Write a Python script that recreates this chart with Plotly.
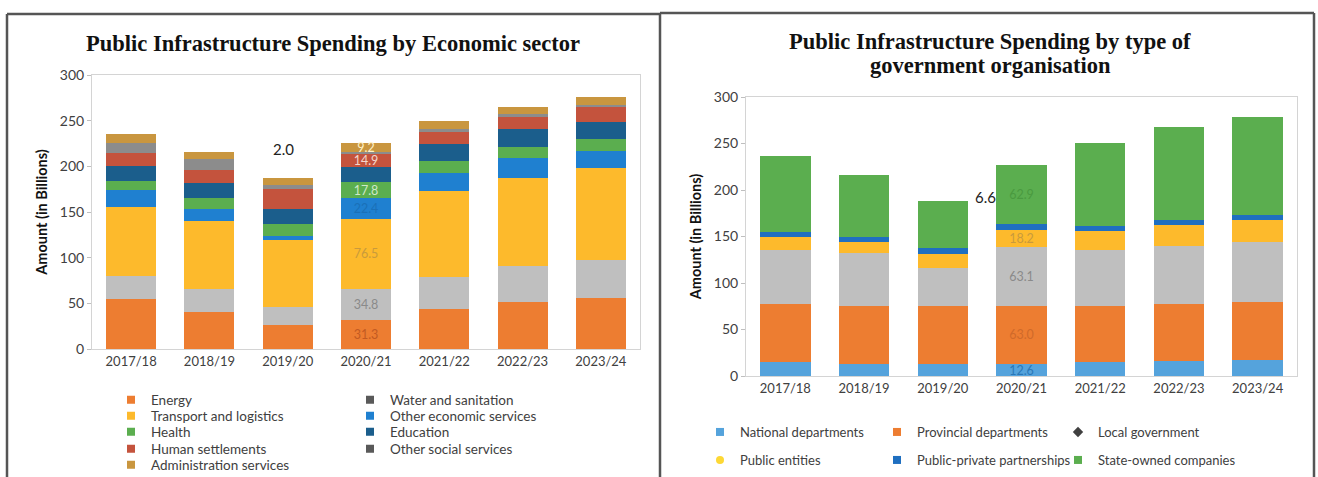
import plotly.graph_objects as go

# ---- data -------------------------------------------------------------
years = ["2017/18", "2018/19", "2019/20", "2020/21", "2021/22", "2022/23", "2023/24"]

# Spending by economic sector (R billions)
energy = [55.0, 40.0, 26.0, 31.3, 43.5, 51.5, 55.5]
water = [25.0, 26.0, 20.5, 34.8, 35.5, 39.0, 42.0]
transport = [76.0, 74.0, 72.5, 76.5, 94.0, 97.0, 100.5]
other_econ = [18.0, 13.0, 5.0, 22.4, 19.5, 22.0, 19.0]
health = [10.0, 12.5, 13.0, 17.8, 13.0, 11.5, 12.5]
education = [16.0, 16.5, 16.0, 16.5, 19.0, 19.5, 19.5]
human_settlements = [14.5, 14.5, 22.0, 14.9, 13.5, 14.0, 15.5]
other_social = [11.0, 11.0, 5.0, 2.0, 2.5, 2.5, 2.5]
admin = [10.0, 8.0, 7.5, 9.2, 9.5, 8.5, 9.0]

# Spending by type of government organisation (R billions)
national = [15.0, 13.0, 13.0, 12.6, 15.0, 16.5, 17.5]
provincial = [62.5, 62.0, 62.0, 63.0, 60.0, 61.0, 62.5]
local_gov = [57.5, 57.5, 41.0, 63.1, 60.5, 62.0, 64.5]
public_entities = [14.5, 12.0, 15.5, 18.2, 20.0, 22.5, 23.0]
ppp = [5.0, 5.0, 6.5, 6.6, 5.5, 5.5, 5.5]
soc = [82.0, 66.5, 50.0, 62.9, 90.0, 100.0, 105.0]

labelled_year = "2020/21"

# ---- styling ----------------------------------------------------------
TICK_FONT = "Lato, Open Sans, sans-serif"
TITLE_FONT = "Liberation Serif, DejaVu Serif, serif"
W, H = 1318, 477

# (name, values, bar colour, label colour, legend swatch colour, swatch symbol)
sector_series = [
    ("Energy", energy, "#ED7D31", "#c25a22", "#ED7D31", "square"),
    ("Water and sanitation", water, "#BFBFBF", "#8a8a8a", "#595959", "square"),
    ("Transport and logistics", transport, "#FDBA2C", "#c99a3c", "#FDBA2C", "square"),
    ("Other economic services", other_econ, "#1F80D0", "#1a70b8", "#1F80D0", "square"),
    ("Health", health, "#5BAE4F", "#cfe8c8", "#5BAE4F", "square"),
    ("Education", education, "#1B5E8C", "#1B5E8C", "#1B5E8C", "square"),
    ("Human settlements", human_settlements, "#C4533D", "#f3d6cc", "#C4533D", "square"),
    ("Other social services", other_social, "#8C8C8C", "#8C8C8C", "#595959", "square"),
    ("Administration services", admin, "#C9963F", "#fff2c8", "#C9963F", "square"),
]

org_series = [
    ("National departments", national, "#55A3DC", "#2a78b8", "#55A3DC", "square"),
    ("Provincial departments", provincial, "#ED7D31", "#d06a2a", "#ED7D31", "square"),
    ("Local government", local_gov, "#BFBFBF", "#8a8a8a", "#404040", "diamond"),
    ("Public entities", public_entities, "#FDBA2C", "#c99a3c", "#FDD835", "circle"),
    ("Public-private partnerships", ppp, "#1F6FC0", "#1F6FC0", "#1F6FC0", "square"),
    ("State-owned companies", soc, "#5BAE4F", "#4a9a40", "#5BAE4F", "square"),
]

# legend entry layout: text start x and row centre y (pixels), one legend box per entry
sector_legend_pos = [(151, 400), (390, 400), (151, 416), (390, 416), (151, 432),
                     (390, 432), (151, 449), (390, 449), (151, 465)]
org_legend_pos = [(740, 432), (917, 432), (1098, 432),
                  (740, 460), (917, 460), (1098, 460)]

fig = go.Figure()
legend_layouts = {}

legend_common = dict(orientation="h", bgcolor="rgba(0,0,0,0)", traceorder="normal",
                     itemwidth=30, xanchor="left", yanchor="middle",
                     itemclick=False, itemdoubleclick=False)


def seg_labels(vals):
    return [f"{v:.1f}" if yr == labelled_year else "" for yr, v in zip(years, vals)]


def add_stack(series, xa, ya, outside_idx, positions, font_size):
    for i, (name, vals, col, tcol, lcol, sym) in enumerate(series):
        text = [""] * len(vals) if i == outside_idx else seg_labels(vals)
        fig.add_trace(go.Bar(
            x=years, y=vals, name=name, marker=dict(color=col, line=dict(width=0)),
            text=text, textposition="inside", insidetextanchor="middle",
            constraintext="none", cliponaxis=False,
            textfont=dict(family=TICK_FONT, size=12.5, color=tcol),
            xaxis=xa, yaxis=ya, showlegend=False,
        ))
        # legend swatch, each in its own legend box
        leg_id = "legend" if not legend_layouts else f"legend{len(legend_layouts) + 1}"
        tx, ty = positions[i]
        legend_layouts[leg_id] = dict(
            legend_common, x=(tx - 40) / W, y=1 - ty / H,
            font=dict(family=TICK_FONT, size=font_size, color="#404040"))
        fig.add_trace(go.Scatter(
            x=[None], y=[None], mode="markers", name=name,
            marker=dict(symbol=sym, size=8, color=lcol),
            xaxis=xa, yaxis=ya, legend=leg_id, showlegend=True,
        ))


add_stack(sector_series, "x", "y", 7, sector_legend_pos, 13.5)
add_stack(org_series, "x2", "y2", 4, org_legend_pos, 13)

# values shown beside the bar rather than inside it
k = years.index(labelled_year)
fig.add_annotation(x=years[k - 1], y=219, xref="x", yref="y",
                   text=f"{other_social[k]:.1f}", showarrow=False, xshift=-4,
                   font=dict(family=TICK_FONT, size=15, color="#222"))
fig.add_annotation(x=years[k], y=192, xref="x2", yref="y2",
                   text=f"{ppp[k]:.1f}", showarrow=False, xshift=-36,
                   font=dict(family=TICK_FONT, size=15, color="#222"))

# titles
title_font = dict(family=TITLE_FONT, size=22.5, color="#111")
for txt, cx, cy in [("Public Infrastructure Spending by Economic sector", 333, 43),
                    ("Public Infrastructure Spending by type of", 990, 41),
                    ("government organisation", 990, 66)]:
    fig.add_annotation(x=cx / W, y=1 - cy / H, xref="paper", yref="paper",
                       xanchor="center", yanchor="middle",
                       text=f"<b>{txt}</b>", showarrow=False, font=title_font)

# panel frames
frame = dict(color="#555555", width=2.5)
for x0, y0, x1, y1 in [(7, 14, 7, H), (7, 14, 660, 14), (660, 13, 660, H),
                       (660, 13, 1314, 13), (1314, 13, 1314, H)]:
    fig.add_shape(type="line", xref="paper", yref="paper",
                  x0=x0 / W, x1=x1 / W, y0=1 - y0 / H, y1=1 - y1 / H, line=frame)

axis_common = dict(showgrid=False, zeroline=False, showline=True, mirror=True,
                   linecolor="#d4d4d4", linewidth=1)
xaxis_common = dict(axis_common, range=[-0.5, 6.5], ticks="",
                    tickfont=dict(family=TICK_FONT, size=13, color="#404040"))
yaxis_common = dict(axis_common, range=[0, 300], dtick=50, ticks="outside",
                    ticklen=4, tickcolor="#bfbfbf",
                    tickfont=dict(family=TICK_FONT, size=14, color="#404040"),
                    title=dict(text="<b>Amount (in Billions)</b>",
                               font=dict(family=TICK_FONT, size=14.5, color="#111"),
                               standoff=8))

fig.update_layout(
    width=W, height=H, margin=dict(l=0, r=0, t=0, b=0, autoexpand=False),
    paper_bgcolor="white", plot_bgcolor="white",
    barmode="stack", bargap=0.36, showlegend=True,
    xaxis=dict(xaxis_common, domain=[92 / W, 640 / W], anchor="y"),
    yaxis=dict(yaxis_common, domain=[1 - 349 / H, 1 - 75 / H], anchor="x"),
    xaxis2=dict(xaxis_common, domain=[746 / W, 1297 / W], anchor="y2"),
    yaxis2=dict(yaxis_common, domain=[1 - 376 / H, 1 - 97 / H], anchor="x2"),
    **legend_layouts,
)

fig.write_html("out.html")
